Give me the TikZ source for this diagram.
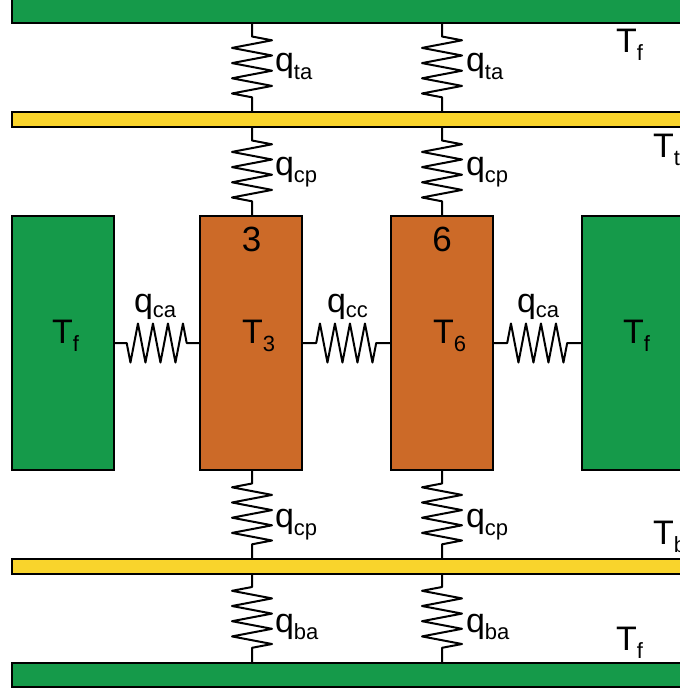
\documentclass[tikz,border=0pt]{standalone}
\usepackage{fontspec}
\setmainfont{Liberation Sans}
\usetikzlibrary{decorations.pathmorphing}
\definecolor{plategreen}{HTML}{159A4A}
\definecolor{plateyellow}{HTML}{F9D42C}
\definecolor{cellorange}{HTML}{CC6A28}
\newcommand{\lbl}[3][8pt]{\fontsize{34}{34}\selectfont #2\raisebox{-#1}{\fontsize{22}{22}\selectfont #3}}
\tikzset{
  blockbox/.style={draw=black,line width=2pt,rectangle,anchor=north west,inner sep=0pt,outer sep=0pt},
  springbase/.style={draw=black,line width=2pt,line join=round,decorate},
  vspringr/.style={springbase,decoration={zigzag,segment length=15.2pt,amplitude=20pt,pre length=13.5pt,post length=13.5pt}},
  vspringl/.style={springbase,decoration={zigzag,segment length=15.2pt,amplitude=-20pt,pre length=13.5pt,post length=13.5pt}},
  hspringdown/.style={springbase,decoration={zigzag,segment length=15pt,amplitude=-19.5pt,pre length=12.7pt,post length=13pt}},
  hspringup/.style={springbase,decoration={zigzag,segment length=15pt,amplitude=19.5pt,pre length=14.2pt,post length=14pt}},
  lab/.style={anchor=base west,inner sep=0pt,outer sep=0pt}
}
\begin{document}
\begin{tikzpicture}[x=1pt,y=-1pt]
\useasboundingbox (0,0) rectangle (680,691);
\clip (0,0) rectangle (680,691);
\fill[white] (0,0) rectangle (680,691);
% plates
\node[blockbox,fill=plategreen,minimum width=690pt,minimum height=24pt] (topg) at (12,-1) {};
\node[blockbox,fill=plateyellow,minimum width=690pt,minimum height=15pt] (topy) at (12,112) {};
\node[blockbox,fill=plateyellow,minimum width=690pt,minimum height=15pt] (boty) at (12,558.5) {};
\node[blockbox,fill=plategreen,minimum width=690pt,minimum height=24pt] (botg) at (12,662.5) {};
% blocks
\node[blockbox,fill=plategreen,minimum width=102pt,minimum height=254pt] (lf) at (12,216) {};
\node[blockbox,fill=cellorange,minimum width=102pt,minimum height=254pt] (c3) at (200,216) {};
\node[blockbox,fill=cellorange,minimum width=102pt,minimum height=254pt] (c6) at (391,216) {};
\node[blockbox,fill=plategreen,minimum width=120pt,minimum height=254pt] (rf) at (582,216) {};
% column coordinates
\coordinate (xa) at (252,0);
\coordinate (xb) at (442,0);
\coordinate (ym) at (0,343);
% vertical springs
\path[vspringr] (topg.south -| xa) -- (topy.north -| xa);
\path[vspringr] (topg.south -| xb) -- (topy.north -| xb);
\path[vspringr] (topy.south -| xa) -- (c3.north -| xa);
\path[vspringr] (topy.south -| xb) -- (c6.north -| xb);
\path[vspringl] (c3.south -| xa) -- (boty.north -| xa);
\path[vspringl] (c6.south -| xb) -- (boty.north -| xb);
\path[vspringl] (boty.south -| xa) -- (botg.north -| xa);
\path[vspringl] (boty.south -| xb) -- (botg.north -| xb);
% horizontal springs
\path[hspringdown] (lf.east |- ym) -- (c3.west |- ym);
\path[hspringup] (c3.east |- ym) -- (c6.west |- ym);
\path[hspringup] (c6.east |- ym) -- (rf.west |- ym);
% labels
\node[lab] (qta1) at (275,71) {\lbl{q}{ta}};
\node[lab] (qta2) at (466,71) {\lbl{q}{ta}};
\node[lab] (qcp1) at (275,175) {\lbl[7pt]{q}{cp}};
\node[lab] (qcp2) at (466,175) {\lbl[7pt]{q}{cp}};
\node[lab] (qcp3) at (275,527) {\lbl{q}{cp}};
\node[lab] (qcp4) at (466,527) {\lbl{q}{cp}};
\node[lab] (qba1) at (275,632) {\lbl[7.5pt]{q}{ba}};
\node[lab] (qba2) at (466,632) {\lbl[7.5pt]{q}{ba}};
\node[lab] (qca1) at (134,312) {\lbl[5pt]{q}{ca}};
\node[lab] (qcc) at (327,312) {\lbl[5pt]{q}{cc}};
\node[lab] (qca2) at (517,312) {\lbl[5pt]{q}{ca}};
\node[lab] (tf1) at (616,52) {\lbl{T}{f}};
\node[lab] (tt) at (653,157) {\lbl{T}{t}};
\node[lab] (tb) at (653,544.5) {\lbl{T}{b}};
\node[lab] (tf2) at (616,650) {\lbl{T}{f}};
\node[lab] (tf3) at (52,343.5) {\lbl{T}{f}};
\node[lab] (t3) at (242,343.5) {\lbl{T}{3}};
\node[lab] (t6) at (433,343.5) {\lbl{T}{6}};
\node[lab] (tf4) at (623,343.5) {\lbl{T}{f}};
\node[lab,anchor=base] (n3) at (251.5,251.5) {\fontsize{35}{35}\selectfont 3};
\node[lab,anchor=base] (n6) at (442,251.5) {\fontsize{35}{35}\selectfont 6};
\end{tikzpicture}
\end{document}
